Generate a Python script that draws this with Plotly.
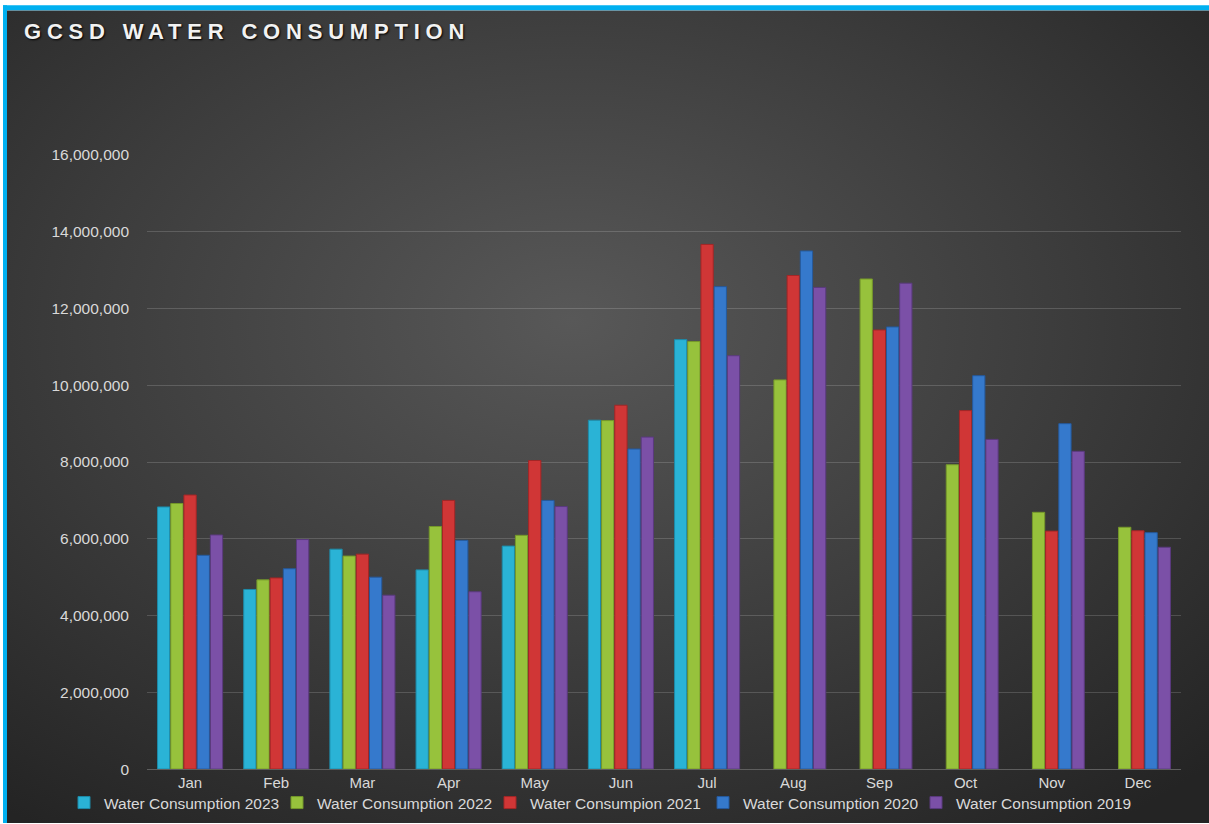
import base64
import plotly.graph_objects as go

months = ["Jan", "Feb", "Mar", "Apr", "May", "Jun", "Jul", "Aug", "Sep", "Oct", "Nov", "Dec"]
wc2023 = [6830000, 4680000, 5730000, 5190000, 5810000, 9090000, 11190000, None, None, None, None, None]
wc2022 = [6920000, 4930000, 5550000, 6320000, 6090000, 9080000, 11140000, 10140000, 12770000, 7930000, 6690000, 6300000]
wc2021 = [7140000, 4980000, 5600000, 7000000, 8040000, 9480000, 13670000, 12860000, 11440000, 9340000, 6200000, 6210000]
wc2020 = [5570000, 5220000, 5000000, 5960000, 7000000, 8340000, 12570000, 13500000, 11520000, 10250000, 9000000, 6160000]
wc2019 = [6100000, 5980000, 4530000, 4620000, 6840000, 8650000, 10770000, 12550000, 12660000, 8590000, 8280000, 5780000]

series_names = ["Water Consumption 2023", "Water Consumption 2022", "Water Consumpion 2021",
                "Water Consumption 2020", "Water Consumption 2019"]
series_values = [wc2023, wc2022, wc2021, wc2020, wc2019]
colors = ["#2ab3d6", "#97c23c", "#d03636", "#3579cc", "#7b50a7"]
edge_colors = ["#1d8aa8", "#75982a", "#a32626", "#25599c", "#5a3a7e"]
y_ticks = [0, 2000000, 4000000, 6000000, 8000000, 10000000, 12000000, 14000000, 16000000]

W, H = 1209, 824
ML, MR, MT, MB = 5, 5, 155, 5          # outer margins (plot "paper" area)
AX_L, AX_R, AX_B = 147, 1181, 770      # axis rectangle in pixels
PW, PH = W - ML - MR, H - MT - MB

def px_x(x):
    return (x - ML) / PW

def px_y(y):
    return (H - MB - y) / PH

svg = f'''<svg xmlns="http://www.w3.org/2000/svg" width="{W}" height="{H}" viewBox="0 0 {W} {H}" preserveAspectRatio="none">
<defs><radialGradient id="g" cx="47%" cy="40%" r="75%" fx="47%" fy="38%">
<stop offset="0%" stop-color="#585858"/>
<stop offset="55%" stop-color="#3c3c3c"/>
<stop offset="100%" stop-color="#242424"/>
</radialGradient></defs>
<rect x="0" y="0" width="{W}" height="{H}" fill="url(#g)"/>
</svg>'''
src = "data:image/svg+xml;base64," + base64.b64encode(svg.encode()).decode()

fig = go.Figure()
for i, (name, vals, c, ec) in enumerate(zip(series_names, series_values, colors, edge_colors)):
    fig.add_trace(go.Bar(
        x=months, y=vals, name=name,
        marker=dict(color=c, line=dict(color=ec, width=1)),
        legendwidth=195 if i == len(series_names) - 1 else None,
        hovertemplate="%{x}: %{y:,}<extra>" + name + "</extra>",
    ))

fig.add_layout_image(dict(
    source=src, xref="paper", yref="paper",
    x=px_x(7), y=px_y(10), sizex=(W - 7) / PW, sizey=(H - 10) / PH,
    xanchor="left", yanchor="top", sizing="stretch", layer="below",
))
# blue frame on top and left edges
fig.add_shape(type="rect", xref="paper", yref="paper",
              x0=px_x(3), x1=px_x(W), y0=px_y(5), y1=px_y(10),
              fillcolor="#00b0f0", line=dict(width=0), layer="above")
fig.add_shape(type="rect", xref="paper", yref="paper",
              x0=px_x(3), x1=px_x(7), y0=px_y(5), y1=px_y(H),
              fillcolor="#00b0f0", line=dict(width=0), layer="above")

font_family = "Liberation Sans, Arial, sans-serif"
fig.update_layout(
    width=W, height=H,
    margin=dict(l=ML, r=MR, t=MT, b=MB),
    paper_bgcolor="white",
    plot_bgcolor="rgba(0,0,0,0)",
    barmode="group", bargap=0.234, bargroupgap=0.07,
    title=dict(text="<span style='letter-spacing:5.8px'><b>GCSD WATER CONSUMPTION</b></span>",
               x=24 / W, xanchor="left",
               y=1 - 31 / H, yanchor="middle", xref="container", yref="container",
               font=dict(family=font_family, size=22, color="#f2f2f2",
                         shadow="1px 1px 2px #000000")),
    font=dict(family=font_family, color="#d9d9d9", size=15),
    xaxis=dict(domain=[px_x(AX_L), px_x(AX_R)], anchor="y",
               showgrid=False, showline=True, linecolor="#5e5e5e", linewidth=1,
               ticks="", tickfont=dict(size=15, color="#d9d9d9"), automargin=False),
    yaxis=dict(domain=[px_y(AX_B), 1], anchor="x",
               range=[0, 16000000], tickvals=y_ticks, tickformat=",d",
               showgrid=True, gridcolor="rgba(255,255,255,0.16)", gridwidth=1,
               zeroline=False, showline=False, ticks="", ticklabelstandoff=17,
               tickfont=dict(size=15.5, color="#d9d9d9"), automargin=False),
    legend=dict(orientation="h", xref="paper", yref="paper",
                x=px_x(64), y=px_y(803), xanchor="left", yanchor="middle",
                font=dict(size=15.5, color="#d9d9d9"), bgcolor="rgba(0,0,0,0)",
                itemwidth=30, entrywidth=168, entrywidthmode="pixels",
                tracegroupgap=0, traceorder="normal"),
    showlegend=True,
)

fig.write_html("out.html",
               config={"displayModeBar": False},
               post_script="document.body.style.margin='0px';document.body.style.overflow='hidden';")
